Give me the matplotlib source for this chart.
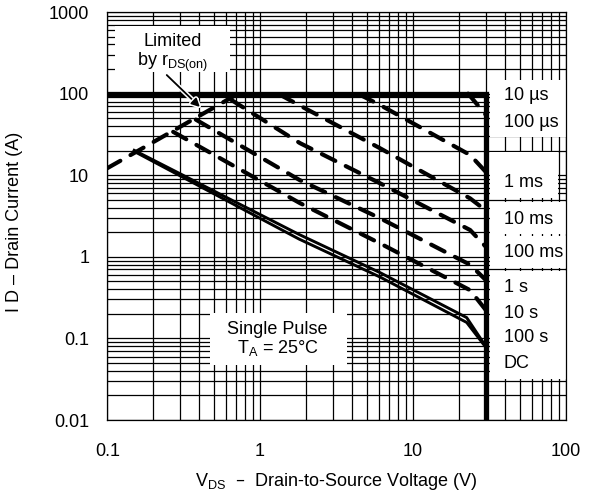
import numpy as np
import matplotlib.pyplot as plt
import matplotlib.patheffects as pe
from matplotlib.patches import Rectangle
from matplotlib.ticker import FixedLocator, LogLocator, NullFormatter

plt.rcParams['font.family'] = ['Liberation Sans', 'DejaVu Sans']
plt.rcParams['mathtext.default'] = 'regular'
plt.rcParams['font.size'] = 13

# package current limit (10 us) and V(BR)DSS edge
limit_v = [0.1, 30, 30]
limit_i = [100, 100, 0.01]

# rDS(on) limit
rds_v = [0.1, 0.155, 0.72]
rds_i = [12.2, 19.4, 100]

# single pulse curves
us100_v = [23, 30]
us100_i = [100, 55]
ms1_v = [4.5, 6.1, 23.7, 30]
ms1_i = [97, 72.5, 17.7, 11]
ms10_v = [1.35, 1.82, 6.1, 23.7, 30]
ms10_i = [97, 71.5, 21.4, 5.2, 3.7]
ms100_v = [0.64, 1.82, 6.1, 23.7, 30]
ms100_i = [85, 24.8, 7.96, 2.13, 1.33]
s1_v = [0.38, 1.82, 6.1, 23.7, 30]
s1_i = [48, 8.7, 2.97, 0.8, 0.52]
s10_v = [0.27, 1.82, 6.1, 23.7, 30]
s10_i = [34, 4.56, 1.46, 0.39, 0.223]
s100_v = [0.15, 1.8, 6.1, 22.5, 30]
s100_i = [20.2, 1.88, 0.64, 0.18, 0.08]
dc_v = [0.158, 1.8, 6.1, 22.5, 30]
dc_i = [18.6, 1.65, 0.565, 0.157, 0.078]

curve_labels = ['10 \u00b5s', '100 \u00b5s', '1 ms', '10 ms', '100 ms', '1 s', '10 s', '100 s', 'DC']
label_y = [0.784, 0.717, 0.572, 0.480, 0.400, 0.3145, 0.249, 0.192, 0.127]

xticks = [0.1, 1, 10, 100]
xtick_labels = ['0.1', '1', '10', '100']
yticks = [0.01, 0.1, 1, 10, 100, 1000]
ytick_labels = ['0.01', '0.1', '1', '10', '100', '1000']

fig = plt.figure(figsize=(5.97, 4.97), dpi=100)
ax = fig.add_axes([0.1797, 0.1549, 0.7678, 0.8209])
ax.set_xscale('log')
ax.set_yscale('log')
ax.set_xlim(0.1, 100)
ax.set_ylim(0.01, 1000)

ax.xaxis.set_major_locator(FixedLocator(xticks))
ax.set_xticklabels(xtick_labels)
ax.yaxis.set_major_locator(FixedLocator(yticks))
ax.set_yticklabels(ytick_labels)
for axis in (ax.xaxis, ax.yaxis):
    axis.set_minor_locator(LogLocator(base=10, subs=np.arange(2, 10), numticks=100))
    axis.set_minor_formatter(NullFormatter())
ax.tick_params(axis='both', which='both', length=0)
ax.tick_params(axis='x', pad=16.5)
ax.tick_params(axis='y', pad=13)
ax.set_axisbelow(True)
ax.grid(True, which='both', color='black', lw=0.9)
for s in ax.spines.values():
    s.set_linewidth(0.9)

# white label boxes over the grid
boxes = [(0.835, 0.6936, 0.175, 0.1397),
         (0.835, 0.5441, 0.148, 0.1128),
         (0.835, 0.4559, 0.175, 0.0784),
         (0.835, 0.3725, 0.175, 0.0785),
         (0.835, 0.1005, 0.175, 0.2647),
         (0.0168, 0.853, 0.251, 0.113),
         (0.224, 0.1348, 0.299, 0.1275)]
for x0, y0, w, h in boxes:
    ax.add_patch(Rectangle((x0, y0), w, h, transform=ax.transAxes,
                           facecolor='white', edgecolor='none', zorder=2, clip_on=False))

dash = (0, (3.6, 2.8))
for v, i in [(rds_v, rds_i), (us100_v, us100_i), (ms1_v, ms1_i), (ms10_v, ms10_i),
             (ms100_v, ms100_i), (s1_v, s1_i), (s10_v, s10_i)]:
    ax.plot(v, i, color='black', lw=3.0, linestyle=dash, dash_capstyle='round', zorder=3)

ax.plot(s100_v, s100_i, color='black', lw=2.1, zorder=3)
ax.plot(dc_v, dc_i, color='black', lw=2.1, zorder=3)
ax.plot(limit_v, limit_i, color='black', lw=3.8, solid_joinstyle='miter', zorder=4)

ax.annotate('', xy=(0.404, 68.5), xytext=(0.245, 169),
            arrowprops=dict(arrowstyle='-|>', color='black', lw=1.3, mutation_scale=12,
                            shrinkA=0, shrinkB=0,
                            path_effects=[pe.withStroke(linewidth=3.5, foreground='white')]),
            zorder=5)

ax.text(0.1427, 0.9174, 'Limited', transform=ax.transAxes, ha='center', va='baseline', zorder=5)
ax.text(0.1427, 0.8684, 'by r$_{DS(on)}$', transform=ax.transAxes, ha='center', va='baseline', zorder=5)
ax.text(0.3715, 0.21, 'Single Pulse', transform=ax.transAxes, ha='center', va='baseline', zorder=5)
ax.text(0.3715, 0.1635, 'T$_A$ = 25\u00b0C', transform=ax.transAxes, ha='center', va='baseline', zorder=5)

for lab, y in zip(curve_labels, label_y):
    ax.text(0.8654, y, lab, transform=ax.transAxes, ha='left', va='baseline', zorder=5)

ax.set_xlabel('V$_{DS}$  \u2013  Drain-to-Source Voltage (V)')
ax.set_ylabel('I D \u2013 Drain Current (A)')
ax.xaxis.set_label_coords(0.5, -0.125)
ax.yaxis.set_label_coords(-0.184, 0.485)

fig.savefig('out.png', dpi=100)
